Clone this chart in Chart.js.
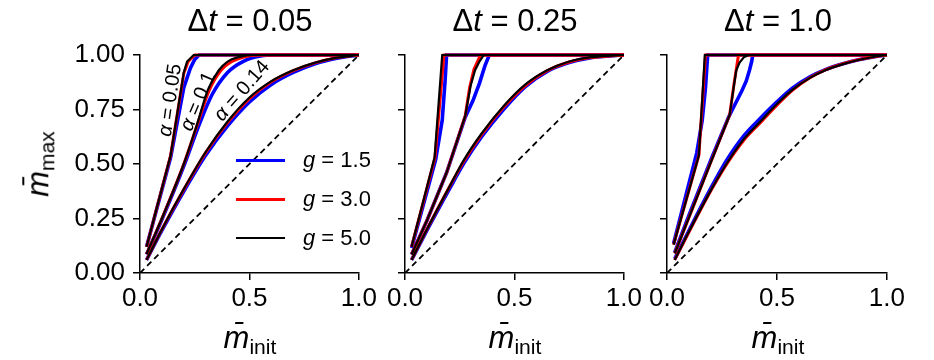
<!DOCTYPE html>
<html>
<head>
<meta charset="utf-8">
<script src="https://cdn.jsdelivr.net/npm/chart.js@4.4.0/dist/chart.umd.min.js"></script>
<style>
  body { margin: 0; width: 934px; height: 360px; background: #fff; position: relative; overflow: hidden;
         font-family: "Liberation Sans", Arial, sans-serif; }
  canvas { position: absolute; top: 0; }
  .txt { position: absolute; white-space: nowrap; color: #000; line-height: 1; }
  .title { font-size: 31px; transform: translateX(-50%); top: 5px; }
  .xlab { font-size: 31px; transform: translateX(-50%); top: 322px; }
  .ylab { font-size: 31px; left: 40px; top: 164px; transform: translate(-50%, -50%) rotate(-90deg); }
  .ann { font-size: 20px; transform: translate(-50%, -50%) rotate(var(--r)); }
  .leg { position: absolute; left: 236px; width: 49px; }
  .legtxt { font-size: 22px; left: 303px; transform: translateY(-50%); }
  sub { font-style: normal; font-size: 68%; vertical-align: -0.3em; }
</style>
</head>
<body>
<canvas id="c1" width="380" height="360" style="left:0px"></canvas>
<canvas id="c2" width="280" height="360" style="left:365px"></canvas>
<canvas id="c3" width="281" height="360" style="left:627px"></canvas>

<div class="txt title" style="left:250px">Δ<i>t</i> = 0.05</div>
<div class="txt title" style="left:515px">Δ<i>t</i> = 0.25</div>
<div class="txt title" style="left:778px">Δ<i>t</i> = 1.0</div>

<div class="txt xlab" style="left:250px"><i>m̄</i><sub>init</sub></div>
<div class="txt xlab" style="left:515px"><i>m̄</i><sub>init</sub></div>
<div class="txt xlab" style="left:778px"><i>m̄</i><sub>init</sub></div>
<div class="txt ylab"><i>m̄</i><sub>max</sub></div>

<div class="txt ann" style="left:169px;top:100px;--r:-82deg"><i>α</i> = 0.05</div>
<div class="txt ann" style="left:197px;top:101px;--r:-67deg"><i>α</i> = 0.1</div>
<div class="txt ann" style="left:241px;top:90px;--r:-49deg"><i>α</i> = 0.14</div>

<div class="leg" style="top:159px;height:3px;background:#0000ff"></div>
<div class="leg" style="top:198px;height:3px;background:#ff0000"></div>
<div class="leg" style="top:237px;height:2px;background:#000"></div>
<div class="txt legtxt" style="top:160px"><i>g</i> = 1.5</div>
<div class="txt legtxt" style="top:199px"><i>g</i> = 3.0</div>
<div class="txt legtxt" style="top:238px"><i>g</i> = 5.0</div>

<script>
// ticks
const xTicks = [0, 0.5, 1];
const yTicks = [0, 0.25, 0.5, 0.75, 1];
const diagonal = [[0, 0], [1, 1]];

// Δt = 0.05  (points [m_init, m_max])
const p1_a005_g15 = [[0.03,0.12],[0.14,0.53],[0.2,0.85],[0.23,0.94],[0.25,0.98],[0.27,1.0],[1,1]];
const p1_a005_g30 = [[0.03,0.12],[0.14,0.54],[0.2,0.915],[0.22,0.97],[0.25,1.0],[1,1]];
const p1_a005_g50 = [[0.03,0.12],[0.14,0.54],[0.2,0.92],[0.215,0.97],[0.245,1.0],[1,1]];
const p1_a01_g15 = [[0.03,0.085],[0.1,0.245],[0.2,0.49],[0.27,0.68],[0.33,0.82],[0.4,0.92],[0.47,0.97],[0.55,0.995],[0.62,1.0],[1,1]];
const p1_a01_g30 = [[0.03,0.087],[0.1,0.25],[0.2,0.5],[0.26,0.675],[0.315,0.835],[0.37,0.93],[0.42,0.97],[0.47,0.99],[0.54,1.0],[1,1]];
const p1_a01_g50 = [[0.03,0.087],[0.1,0.25],[0.2,0.5],[0.26,0.68],[0.31,0.84],[0.36,0.93],[0.4,0.97],[0.45,0.99],[0.52,1.0],[1,1]];
const p1_a014_g15 = [[0.03,0.06],[0.1,0.195],[0.2,0.375],[0.3,0.54],[0.4,0.675],[0.5,0.785],[0.6,0.865],[0.7,0.92],[0.8,0.96],[0.9,0.985],[1,1]];
const p1_a014_g30 = [[0.03,0.06],[0.1,0.2],[0.2,0.383],[0.3,0.552],[0.4,0.69],[0.5,0.8],[0.6,0.877],[0.7,0.928],[0.8,0.964],[0.9,0.988],[1,1]];
const p1_a014_g50 = [[0.03,0.06],[0.1,0.2],[0.2,0.385],[0.3,0.555],[0.4,0.695],[0.5,0.805],[0.6,0.88],[0.7,0.93],[0.8,0.965],[0.9,0.988],[1,1]];

// Δt = 0.25
const p2_a005_g15 = [[0.03,0.115],[0.14,0.52],[0.17,0.7],[0.183,0.88],[0.19,1.0],[1,1]];
const p2_a005_g30 = [[0.03,0.12],[0.137,0.53],[0.178,1.0],[1,1]];
const p2_a005_g50 = [[0.03,0.12],[0.135,0.53],[0.17,1.0],[1,1]];
const p2_a01_g15 = [[0.03,0.085],[0.1,0.24],[0.19,0.46],[0.275,0.715],[0.31,0.79],[0.34,0.87],[0.365,0.95],[0.385,1.0],[1,1]];
const p2_a01_g30 = [[0.03,0.085],[0.1,0.24],[0.19,0.46],[0.275,0.72],[0.295,0.85],[0.315,0.935],[0.345,1.0],[1,1]];
const p2_a01_g50 = [[0.03,0.085],[0.1,0.24],[0.19,0.46],[0.275,0.72],[0.3,0.86],[0.32,0.93],[0.34,0.97],[0.36,1.0],[1,1]];
const p2_a014_g15 = [[0.03,0.06],[0.1,0.195],[0.2,0.38],[0.27,0.505],[0.35,0.625],[0.45,0.75],[0.55,0.855],[0.65,0.925],[0.75,0.965],[0.85,0.988],[1,1]];
const p2_a014_g30 = [[0.03,0.06],[0.1,0.2],[0.2,0.39],[0.27,0.515],[0.35,0.635],[0.45,0.76],[0.55,0.86],[0.65,0.928],[0.75,0.968],[0.85,0.988],[1,1]];
const p2_a014_g50 = [[0.03,0.06],[0.1,0.2],[0.2,0.39],[0.27,0.52],[0.35,0.64],[0.45,0.765],[0.55,0.865],[0.65,0.93],[0.75,0.97],[0.85,0.99],[1,1]];

// Δt = 1.0
const p3_a005_g15 = [[0.03,0.135],[0.135,0.55],[0.16,0.7],[0.175,0.85],[0.185,1.0],[1,1]];
const p3_a005_g30 = [[0.03,0.13],[0.145,0.54],[0.175,1.0],[1,1]];
const p3_a005_g50 = [[0.03,0.13],[0.145,0.54],[0.172,1.0],[1,1]];
const p3_a01_g15 = [[0.035,0.095],[0.1,0.265],[0.2,0.52],[0.28,0.715],[0.31,0.775],[0.34,0.835],[0.36,0.88],[0.375,0.93],[0.385,0.97],[0.39,1.0],[1,1]];
const p3_a01_g30 = [[0.035,0.09],[0.1,0.255],[0.2,0.51],[0.285,0.725],[0.305,0.87],[0.325,1.0],[1,1]];
const p3_a01_g50 = [[0.035,0.09],[0.1,0.255],[0.2,0.51],[0.285,0.725],[0.3,0.83],[0.315,0.93],[0.33,0.965],[0.35,0.99],[0.37,1.0],[1,1]];
const p3_a014_g15 = [[0.035,0.065],[0.1,0.195],[0.2,0.39],[0.27,0.515],[0.35,0.63],[0.42,0.705],[0.5,0.785],[0.57,0.848],[0.65,0.9],[0.72,0.933],[0.8,0.96],[0.87,0.978],[0.95,0.993],[1,1]];
const p3_a014_g30 = [[0.035,0.06],[0.1,0.188],[0.2,0.378],[0.27,0.497],[0.35,0.61],[0.42,0.685],[0.5,0.77],[0.57,0.838],[0.65,0.896],[0.72,0.932],[0.8,0.96],[0.87,0.978],[0.95,0.993],[1,1]];
const p3_a014_g50 = [[0.035,0.06],[0.1,0.19],[0.2,0.38],[0.27,0.5],[0.35,0.615],[0.42,0.69],[0.5,0.775],[0.57,0.84],[0.65,0.895],[0.72,0.93],[0.8,0.958],[0.87,0.977],[0.95,0.993],[1,1]];

const FONT = '"Liberation Sans", Arial, sans-serif';
const gStyles = [
  { color: '#0000ff', width: 3.6, order: 3 },   // g = 1.5
  { color: '#ff0000', width: 3.0, order: 2 },   // g = 3.0
  { color: '#000000', width: 2.2, order: 1 }    // g = 5.0
];

function toXY(arr) { return arr.map(p => ({ x: p[0], y: p[1] })); }

function curveSets(groups, smooth) {
  const out = [];
  groups.forEach((trio, ai) => {
    trio.forEach((pts, gi) => {
      const st = gStyles[gi];
      out.push({
        data: toXY(pts),
        borderColor: st.color,
        borderWidth: st.width,
        order: st.order,
        pointRadius: 0,
        fill: false,
        clip: false,
        cubicInterpolationMode: smooth[ai] ? 'monotone' : 'default',
        tension: 0
      });
    });
  });
  out.push({
    data: toXY(diagonal), borderColor: '#000', borderWidth: 1.8, borderDash: [6, 4],
    pointRadius: 0, fill: false, order: 4
  });
  return out;
}

function makePanel(id, groups, smooth, yWidth, showY) {
  new Chart(document.getElementById(id), {
    type: 'line',
    data: { datasets: curveSets(groups, smooth) },
    options: {
      responsive: false,
      animation: false,
      events: [],
      layout: { padding: { left: 0, right: 20, top: 55, bottom: 0 } },
      plugins: { legend: { display: false }, tooltip: { enabled: false } },
      scales: {
        x: {
          type: 'linear', min: 0, max: 1,
          afterBuildTicks: s => { s.ticks = xTicks.map(v => ({ value: v })); },
          afterFit: s => { s.height = 87; },
          ticks: { callback: v => v.toFixed(1), color: '#000', font: { family: FONT, size: 26 },
                   padding: 3, maxRotation: 0, autoSkip: false },
          grid: { drawOnChartArea: false, tickLength: 7, color: '#000', lineWidth: 1.5 },
          border: { color: '#000', width: 1.5 }
        },
        y: {
          type: 'linear', min: 0, max: 1,
          afterBuildTicks: s => { s.ticks = yTicks.map(v => ({ value: v })); },
          afterFit: s => { s.width = yWidth; },
          ticks: { display: showY, callback: v => v.toFixed(2), color: '#000',
                   font: { family: FONT, size: 26 }, padding: 8, autoSkip: false },
          grid: { drawOnChartArea: false, tickLength: 7, color: '#000', lineWidth: 1.5 },
          border: { color: '#000', width: 1.5 }
        }
      }
    }
  });
}

makePanel('c1', [
  [p1_a005_g15, p1_a005_g30, p1_a005_g50],
  [p1_a01_g15, p1_a01_g30, p1_a01_g50],
  [p1_a014_g15, p1_a014_g30, p1_a014_g50]
], [false, true, true], 140, true);

makePanel('c2', [
  [p2_a005_g15, p2_a005_g30, p2_a005_g50],
  [p2_a01_g15, p2_a01_g30, p2_a01_g50],
  [p2_a014_g15, p2_a014_g30, p2_a014_g50]
], [false, false, true], 40, false);

makePanel('c3', [
  [p3_a005_g15, p3_a005_g30, p3_a005_g50],
  [p3_a01_g15, p3_a01_g30, p3_a01_g50],
  [p3_a014_g15, p3_a014_g30, p3_a014_g50]
], [false, false, true], 40, false);
</script>
</body>
</html>
